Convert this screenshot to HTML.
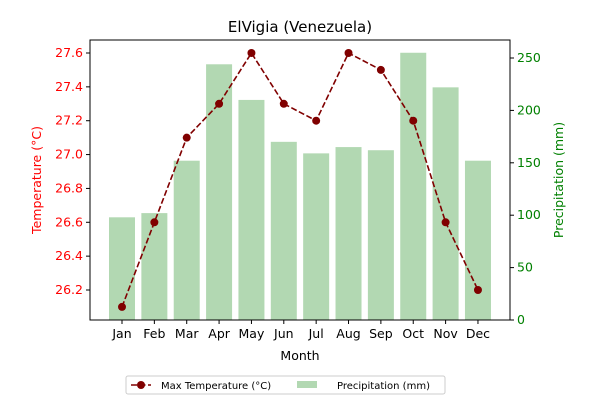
<!DOCTYPE html>
<html><head><meta charset="utf-8"><style>
body{margin:0;background:#fff;font-family:"Liberation Sans","DejaVu Sans",sans-serif}
</style></head><body>
<svg id="c" width="600" height="400" xmlns="http://www.w3.org/2000/svg" font-family="DejaVu Sans, Liberation Sans, sans-serif"></svg>
<script>
const months=["Jan","Feb","Mar","Apr","May","Jun","Jul","Aug","Sep","Oct","Nov","Dec"];
const maxTemp=[26.1,26.6,27.1,27.3,27.6,27.3,27.2,27.6,27.5,27.2,26.6,26.2];
const precip=[98,102,152,244,210,170,159,165,162,255,222,152];
const leftTicks=[26.2,26.4,26.6,26.8,27.0,27.2,27.4,27.6];
const rightTicks=[0,50,100,150,200,250];
const NS="http://www.w3.org/2000/svg";
const svg=document.getElementById('c');
const L=90,R=510,T=40,B=320;
const yL=v=>290-(v-26.2)/0.2*33.857;
const yR=v=>320-v*1.048;
const x=i=>122+i*32.36;
function el(t,a,p){const e=document.createElementNS(NS,t);for(const k in a)e.setAttribute(k,a[k]);(p||svg).appendChild(e);return e;}
function txt(s,a){const e=el('text',a);e.textContent=s;return e;}
precip.forEach((v,i)=>{const r=el('rect',{x:x(i)-13,y:yR(v),width:26,height:B-yR(v),fill:'#b2d8b2'});

});
el('rect',{x:L,y:T,width:R-L,height:B-T,fill:'none',stroke:'#000','stroke-width':1});
leftTicks.forEach(v=>{const y=yL(v);el('line',{x1:L-4,x2:L,y1:y,y2:y,stroke:'#000'});
const t=txt(v.toFixed(1),{x:L-7,y:y+4,'text-anchor':'end','font-size':12.5,fill:'red'});

});
rightTicks.forEach(v=>{const y=yR(v);el('line',{x1:R,x2:R+4,y1:y,y2:y,stroke:'#000'});
const t=txt(String(v),{x:R+7,y:y+4,'font-size':12.5,fill:'green'});

});
months.forEach((m,i)=>{el('line',{x1:x(i),x2:x(i),y1:B,y2:B+4,stroke:'#000'});
const t=txt(m,{x:x(i),y:B+18,'text-anchor':'middle','font-size':12.5});

});
const pl=el('polyline',{points:maxTemp.map((v,i)=>x(i)+','+yL(v)).join(' '),fill:'none',stroke:'#800000','stroke-width':1.6,'stroke-dasharray':'6,2.5'});


maxTemp.forEach((v,i)=>{const c=el('circle',{cx:x(i),cy:yL(v),r:4,fill:'#800000'});

});
let t=txt('ElVigia (Venezuela)',{x:300,y:32,'text-anchor':'middle','font-size':15});

t=txt('Month',{x:300,y:360,'text-anchor':'middle','font-size':12.5});

t=txt('Temperature (°C)',{x:0,y:0,'text-anchor':'middle','font-size':12.5,fill:'red',transform:'translate(41,180) rotate(-90)'});

t=txt('Precipitation (mm)',{x:0,y:0,'text-anchor':'middle','font-size':12.5,fill:'green',transform:'translate(563,180) rotate(-90)'});

const lg=el('g',{});
el('rect',{x:126,y:376,width:319,height:18,rx:2,fill:'#fff',stroke:'#ccc'},lg);
el('line',{x1:131,x2:151,y1:385,y2:385,stroke:'#800000','stroke-width':1.6,'stroke-dasharray':'6,2.5'},lg);
el('circle',{cx:141,cy:385,r:4,fill:'#800000'},lg);
let e=el('text',{x:161,y:389,'font-size':10},lg);e.textContent='Max Temperature (°C)';
el('rect',{x:297,y:381,width:20,height:7,fill:'#b2d8b2'},lg);
e=el('text',{x:337,y:389,'font-size':10},lg);e.textContent='Precipitation (mm)';
</script>
</body></html>
